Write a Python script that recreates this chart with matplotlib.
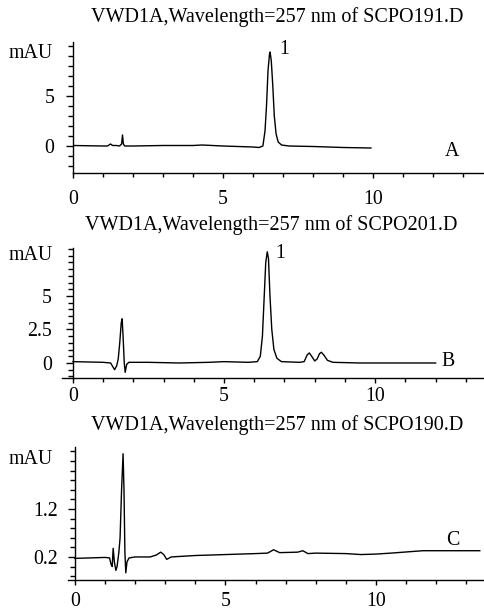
import matplotlib
matplotlib.use("Agg")
import matplotlib.pyplot as plt
from matplotlib.ticker import MultipleLocator, FixedLocator

plt.rcParams['font.family'] = ['Liberation Serif', 'DejaVu Serif']

# ---- data (retention time in min, signal in mAU) ----
titles = ["VWD1A,Wavelength=257 nm of SCPO191.D",
          "VWD1A,Wavelength=257 nm of SCPO201.D",
          "VWD1A,Wavelength=257 nm of SCPO190.D"]
panel_letters = ["A", "B", "C"]

time_a = [0.0, 1.0, 1.15, 1.25, 1.32, 1.45, 1.55, 1.62, 1.65, 1.68, 1.72, 2.0, 3.0, 4.0,
          4.3, 5.0, 6.0, 6.2, 6.33, 6.4, 6.45, 6.5, 6.55, 6.57, 6.61, 6.66, 6.71, 6.77,
          6.84, 6.95, 7.2, 8.0, 9.0, 9.93]
sig_a = [0.05, 0.0, 0.0, 0.2, 0.05, 0.05, 0.0, 0.2, 1.1, 0.2, 0.0, 0.0, 0.05, 0.05,
         0.1, 0.0, -0.1, -0.15, 0.0, 1.5, 4.0, 7.5, 9.2, 9.4, 8.5, 6.0, 3.0, 1.2,
         0.4, 0.1, 0.0, -0.05, -0.15, -0.2]

time_b = [0.0, 1.0, 1.25, 1.3, 1.38, 1.45, 1.5, 1.55, 1.6, 1.63, 1.66, 1.7, 1.73, 1.78,
          1.85, 2.5, 3.5, 4.5, 5.0, 5.8, 6.1, 6.2, 6.27, 6.33, 6.38, 6.43, 6.47, 6.52,
          6.58, 6.65, 6.75, 6.9, 7.5, 7.65, 7.75, 7.82, 7.9, 8.0, 8.08, 8.16, 8.22,
          8.3, 8.42, 8.6, 9.5, 10.5, 12.0]
sig_b = [0.1, 0.05, 0.0, -0.2, -0.5, -0.2, 0.3, 1.5, 3.0, 3.3, 2.0, 0.0, -0.7, -0.1,
         0.05, 0.05, 0.0, 0.05, 0.1, 0.05, 0.1, 0.5, 2.0, 5.0, 7.5, 8.3, 7.8, 5.0,
         2.5, 1.0, 0.35, 0.1, 0.05, 0.1, 0.6, 0.75, 0.5, 0.15, 0.3, 0.7, 0.8,
         0.6, 0.2, 0.05, 0.0, 0.0, 0.0]

time_c = [0.0, 1.0, 1.15, 1.2, 1.24, 1.27, 1.31, 1.36, 1.4, 1.46, 1.5, 1.55, 1.6, 1.63,
          1.66, 1.69, 1.73, 1.8, 2.0, 2.5, 2.7, 2.85, 2.95, 3.05, 3.2, 4.0, 5.0, 6.0,
          6.4, 6.6, 6.8, 7.4, 7.57, 7.74, 8.0, 9.0, 9.5, 10.0, 10.5, 11.56, 12.0, 12.5, 13.45]
sig_c = [0.17, 0.19, 0.18, 0.05, 0.0, 0.38, 0.1, -0.08, 0.0, 0.3, 0.6, 1.6, 2.35, 1.6,
         0.3, -0.13, 0.1, 0.18, 0.2, 0.2, 0.24, 0.3, 0.25, 0.15, 0.2, 0.23, 0.25, 0.27,
         0.28, 0.35, 0.29, 0.3, 0.33, 0.27, 0.28, 0.27, 0.25, 0.26, 0.28, 0.33, 0.33, 0.33, 0.33]

times = [time_a, time_b, time_c]
signals = [sig_a, sig_b, sig_c]

W, H = 484, 612
fig = plt.figure(figsize=(W / 100, H / 100), dpi=100)

FS = 14.3
TFS = 14.5


def fx(px):
    return px / W


def fy(py):
    return 1 - py / H


# panel layout in pixels: (left px, right px, top px, bottom px), limits
panels = [
    dict(l=73, r=484, t=42, b=173, xlim=(0, 13.7), ylim=(-2.7, 10.4),
         ymaj=[0, 5], ymin=1.0, xpad=9.0, ypad=8.5,
         title_xy=(277, 17), mau_y=53, letter_xy=(12.63, -0.6),
         peak_xy=(7.05, 9.6)),
    dict(l=62, r=484, t=248, b=378, xlim=(-0.36, 13.6), ylim=(-1.12, 8.58),
         ymaj=[0, 2.5, 5], ymin=0.5, xpad=3.3, ypad=10.0,
         title_xy=(271, 225), mau_y=255, letter_xy=(12.4, 0.1),
         peak_xy=(6.85, 8.2)),
    dict(l=68, r=484, t=447, b=580, xlim=(-0.23, 13.59), ylim=(-0.28, 2.49),
         ymaj=[0.2, 1.2], ymin=0.2, xpad=4.8, ypad=7.5,
         title_xy=(277, 425), mau_y=460, letter_xy=(12.56, 0.55),
         peak_xy=None),
]

for i, p in enumerate(panels):
    ax = fig.add_axes([fx(p['l']), fy(p['b']), fx(p['r'] - p['l']), fy(p['t']) - fy(p['b'])])
    ax.plot(times[i], signals[i], color='black', lw=1.0)
    ax.set_xlim(*p['xlim'])
    ax.set_ylim(*p['ylim'])
    for s in ['top', 'right']:
        ax.spines[s].set_visible(False)
    ax.spines['left'].set_position(('data', 0))
    ax.spines['left'].set_linewidth(1.0)
    ax.spines['bottom'].set_linewidth(1.0)
    ax.xaxis.set_major_locator(FixedLocator([0, 5, 10]))
    ax.xaxis.set_minor_locator(MultipleLocator(1))
    ax.yaxis.set_major_locator(FixedLocator(p['ymaj']))
    ax.yaxis.set_minor_locator(MultipleLocator(p['ymin']))
    ax.set_xticklabels(['0', '5', '10'])
    ax.set_yticklabels([('%g' % v) for v in p['ymaj']])
    ax.tick_params(axis='x', which='major', direction='out', length=3.5, width=1.0,
                   labelsize=FS, pad=p['xpad'])
    ax.tick_params(axis='x', which='minor', direction='out', length=3.0, width=1.0)
    ax.tick_params(axis='y', which='major', direction='out', length=5, width=1.0,
                   labelsize=FS, pad=p['ypad'])
    ax.tick_params(axis='y', which='minor', direction='out', length=3.5, width=1.0)
    ax.text(p['letter_xy'][0], p['letter_xy'][1], panel_letters[i], fontsize=FS,
            ha='center', va='center')
    if p['peak_xy'] is not None:
        ax.text(p['peak_xy'][0], p['peak_xy'][1], '1', fontsize=FS, ha='center', va='center')
    fig.text(fx(p['title_xy'][0]), fy(p['title_xy'][1]), titles[i], fontsize=TFS,
             ha='center', va='center')
    fig.text(fx(53), fy(p['mau_y']), 'mAU', fontsize=FS, ha='right', va='center')

fig.savefig('out.png', dpi=100)
